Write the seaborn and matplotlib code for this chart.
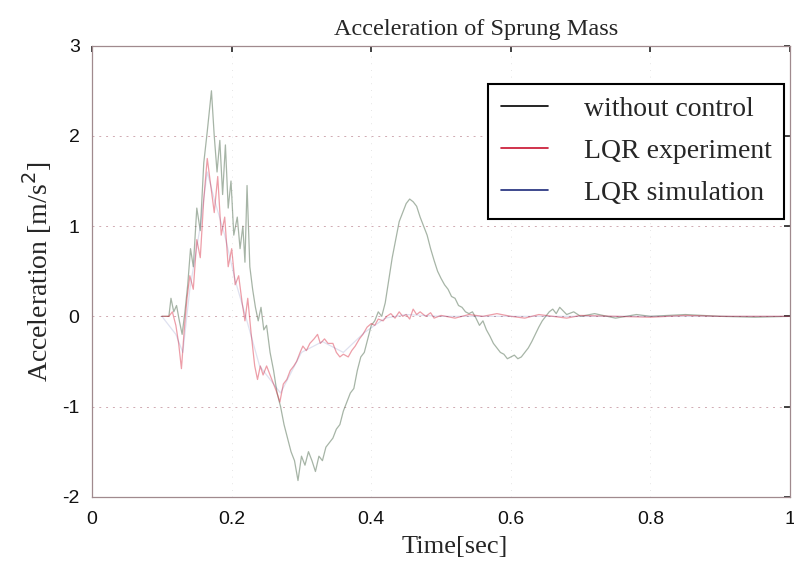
import numpy as np
import pandas as pd
import matplotlib
matplotlib.use("Agg")
import matplotlib.pyplot as plt
from matplotlib.lines import Line2D
import seaborn as sns

# Passive suspension (no controller)
t_passive = [0.10, 0.110, 0.113, 0.117, 0.121, 0.125, 0.129, 0.133, 0.137, 0.141, 0.145,
             0.150, 0.155, 0.160, 0.165, 0.171, 0.175, 0.179, 0.183, 0.187, 0.191, 0.195,
             0.199, 0.203, 0.208, 0.212, 0.216, 0.219, 0.222, 0.226, 0.230, 0.234, 0.238,
             0.242, 0.246, 0.250, 0.255, 0.260, 0.265, 0.270, 0.275, 0.280, 0.285, 0.290,
             0.295, 0.300, 0.305, 0.310, 0.315, 0.320, 0.325, 0.330, 0.335, 0.340, 0.345,
             0.350, 0.355, 0.360, 0.365, 0.370, 0.375, 0.380, 0.385, 0.390, 0.395, 0.400,
             0.405, 0.410, 0.415, 0.420, 0.425, 0.430, 0.435, 0.440, 0.445, 0.450, 0.455,
             0.460, 0.465, 0.470, 0.475, 0.480, 0.485, 0.490, 0.495, 0.500, 0.505, 0.510,
             0.515, 0.520, 0.525, 0.530, 0.535, 0.540, 0.545, 0.550, 0.555, 0.560, 0.565,
             0.570, 0.575, 0.580, 0.585, 0.590, 0.595, 0.600, 0.605, 0.610, 0.615, 0.620,
             0.625, 0.630, 0.635, 0.640, 0.645, 0.650, 0.655, 0.660, 0.665, 0.670, 0.680,
             0.690, 0.700, 0.720, 0.750, 0.780, 0.800, 0.850, 0.900, 0.950, 1.000]
a_passive = [0.0, 0.0, 0.2, 0.05, 0.12, -0.05, -0.2, 0.05, 0.35, 0.75, 0.55,
             1.2, 0.95, 1.7, 2.05, 2.5, 2.0, 1.6, 1.95, 1.35, 1.9, 1.2,
             1.5, 0.9, 1.1, 0.75, 1.0, 0.6, 1.45, 0.55, 0.3, 0.1, -0.05,
             0.1, -0.15, -0.1, -0.4, -0.6, -0.85, -1.0, -1.2, -1.35, -1.5, -1.6,
             -1.82, -1.55, -1.65, -1.5, -1.6, -1.72, -1.55, -1.6, -1.45, -1.4, -1.35,
             -1.25, -1.2, -1.05, -0.95, -0.85, -0.8, -0.6, -0.45, -0.4, -0.25, -0.1,
             -0.05, 0.05, 0.0, 0.15, 0.4, 0.65, 0.85, 1.05, 1.15, 1.25, 1.3,
             1.27, 1.22, 1.1, 1.0, 0.9, 0.75, 0.62, 0.5, 0.42, 0.35, 0.3,
             0.22, 0.2, 0.12, 0.1, 0.05, 0.03, 0.05, -0.02, -0.1, -0.05, -0.15,
             -0.22, -0.3, -0.35, -0.4, -0.42, -0.47, -0.45, -0.43, -0.47, -0.45, -0.4,
             -0.35, -0.28, -0.2, -0.12, -0.05, 0.0, 0.05, 0.08, 0.03, 0.1, 0.02,
             0.05, 0.0, 0.03, -0.02, 0.02, 0.0, 0.02, 0.0, -0.01, 0.0]

# LQR controller, measured
t_lqr_exp = [0.10, 0.110, 0.115, 0.120, 0.124, 0.128, 0.132, 0.136, 0.140, 0.145, 0.150,
             0.155, 0.160, 0.165, 0.170, 0.175, 0.180, 0.185, 0.190, 0.195, 0.200, 0.205,
             0.210, 0.215, 0.219, 0.223, 0.228, 0.233, 0.237, 0.241, 0.245, 0.250, 0.255,
             0.260, 0.265, 0.269, 0.274, 0.279, 0.284, 0.289, 0.293, 0.298, 0.302, 0.307,
             0.312, 0.318, 0.323, 0.327, 0.333, 0.338, 0.345, 0.350, 0.355, 0.360, 0.367,
             0.372, 0.377, 0.383, 0.388, 0.394, 0.400, 0.405, 0.410, 0.417, 0.422, 0.428,
             0.434, 0.440, 0.445, 0.450, 0.455, 0.460, 0.465, 0.470, 0.478, 0.485, 0.490,
             0.500, 0.520, 0.540, 0.560, 0.580, 0.600, 0.620, 0.640, 0.660, 0.680, 0.700,
             0.750, 0.800, 0.850, 0.900, 1.000]
a_lqr_exp = [0.0, 0.0, 0.05, -0.1, -0.3, -0.58, -0.15, 0.2, 0.45, 0.3, 0.85,
             0.65, 1.3, 1.75, 1.45, 1.15, 1.55, 0.9, 1.1, 0.55, 0.75, 0.35,
             0.45, 0.15, -0.05, 0.2, -0.2, -0.55, -0.7, -0.55, -0.65, -0.55, -0.65,
             -0.75, -0.85, -0.95, -0.75, -0.7, -0.6, -0.55, -0.5, -0.4, -0.33, -0.38,
             -0.3, -0.25, -0.2, -0.3, -0.25, -0.3, -0.3, -0.4, -0.45, -0.42, -0.45,
             -0.38, -0.33, -0.25, -0.2, -0.12, -0.08, -0.1, -0.03, -0.05, 0.0, 0.03,
             -0.02, 0.05, 0.0, 0.02, -0.03, 0.08, 0.02, 0.05, 0.0, 0.04, -0.02,
             0.01, -0.02, 0.02, 0.0, 0.03, 0.0, -0.02, 0.02, 0.0, -0.02, 0.01,
             0.0, -0.01, 0.01, 0.0, 0.0]

# LQR controller, simulated
t_lqr_sim = [0.10, 0.120, 0.130, 0.140, 0.155, 0.165, 0.175, 0.190, 0.205, 0.220,
             0.240, 0.270, 0.300, 0.330, 0.360, 0.390, 0.420, 0.450, 0.500, 1.000]
a_lqr_sim = [0.0, -0.2, -0.4, 0.3, 1.0, 1.6, 1.3, 0.9, 0.4, 0.0,
             -0.55, -0.85, -0.4, -0.28, -0.4, -0.18, -0.02, 0.02, 0.0, 0.0]

series_names = ["without control", "LQR experiment", "LQR simulation"]
legend_colors = ["black", "#c8102e", "#1c2a7a"]
trace_colors = ["#4f6b4f", "#d8283f", "#2a3a9a"]
trace_alpha = [0.5, 0.45, 0.15]

df = pd.concat([
    pd.DataFrame({"t": t_passive, "a": a_passive, "series": series_names[0]}),
    pd.DataFrame({"t": t_lqr_exp, "a": a_lqr_exp, "series": series_names[1]}),
    pd.DataFrame({"t": t_lqr_sim, "a": a_lqr_sim, "series": series_names[2]}),
], ignore_index=True)

sns.set_theme(style="white")
plt.rcParams["axes.unicode_minus"] = False
serif = ["Liberation Serif", "DejaVu Serif"]
sans = ["Liberation Sans", "DejaVu Sans"]

fig = plt.figure(figsize=(7.94, 5.71), dpi=100)
ax = fig.add_axes([0.116, 0.130, 0.879, 0.790])

# faint dotted grid
for yv in [-1, 0, 1, 2]:
    ax.axhline(yv, color="#d0aab2", lw=0.7, ls=(0, (2, 5)), zorder=0)
for xv in [0.2, 0.4, 0.6, 0.8]:
    ax.axvline(xv, color="#dddddd", lw=0.6, ls=(0, (1, 7)), zorder=0)

for name, col, al in zip(series_names, trace_colors, trace_alpha):
    sub = df[df["series"] == name]
    sns.lineplot(data=sub, x="t", y="a", ax=ax, color=col, alpha=al,
                 lw=0.9, sort=False, estimator=None, legend=False)

ax.set_xlim(0, 1)
ax.set_ylim(-2, 3)
ax.set_xticks([0, 0.2, 0.4, 0.6, 0.8, 1])
ax.set_xticklabels(["0", "0.2", "0.4", "0.6", "0.8", "1"])
ax.set_yticks([-2, -1, 0, 1, 2, 3])
ax.set_yticklabels(["-2", "-1", "0", "1", "2", "3"])
ax.tick_params(direction="in", length=4, width=1.2, color="#222222",
               top=True, right=True, labelsize=14, labelcolor="#111111")
ax.tick_params(axis="x", pad=10)
ax.tick_params(axis="y", pad=9)
for lab in ax.get_xticklabels() + ax.get_yticklabels():
    lab.set_family(sans)

for sp in ax.spines.values():
    sp.set_color("#a08a8e")
    sp.set_linewidth(0.9)

ax.set_xlabel("Time[sec]", family=serif, fontsize=19, labelpad=6, x=0.52)
ax.set_ylabel("Acceleration [m/s$^2$]", family=serif, fontsize=20, labelpad=6)
ax.set_title("Acceleration of Sprung Mass", family=serif, fontsize=17.5, pad=8, x=0.55)

handles = [Line2D([0], [0], color=c, lw=1.2) for c in legend_colors]
leg = ax.legend(handles, series_names, loc="upper right", bbox_to_anchor=(0.992, 0.915),
                prop={"family": serif, "size": 20}, frameon=True, fancybox=False,
                handlelength=1.7, handletextpad=1.3, borderpad=0.45, labelspacing=0.6,
                borderaxespad=0.0)
leg.get_frame().set_edgecolor("black")
leg.get_frame().set_linewidth(1.5)
leg.get_frame().set_alpha(1)

fig.savefig("out.png", dpi=100)
